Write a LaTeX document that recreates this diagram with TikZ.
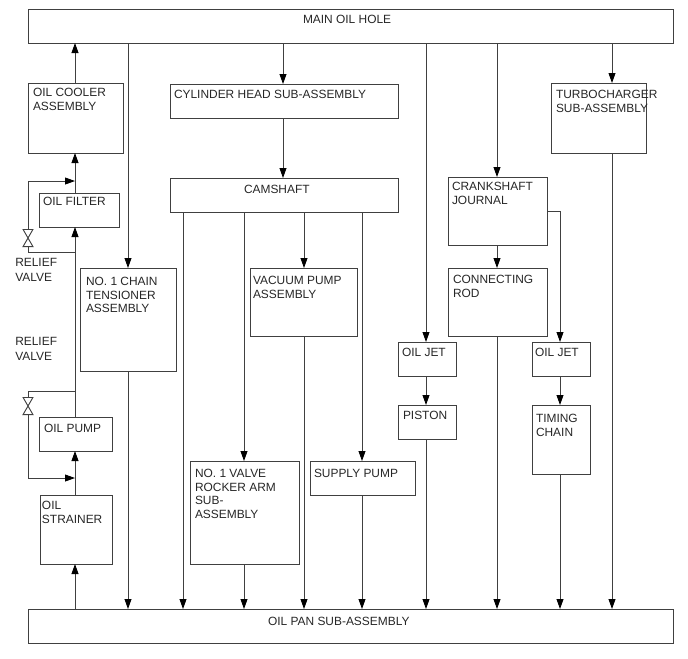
\documentclass[tikz,border=0pt]{standalone}
\usepackage{fontspec}
\setmainfont{Liberation Sans}
\usetikzlibrary{arrows.meta}
\newlength\px
\setlength\px{.75pt}
% box contents: [left inset]{width}{height}{top inset}{text}, set from the top left corner
\newcommand{\unittext}[5][4]{\parbox[t][#3\px][t]{#2\px}{\raggedright\leftskip=#1\px\relax\vspace*{#4\px}#5\par}}
\hbadness=10000
\hfuzz=20pt
\tikzset{
  unit/.style={draw=black!75, line width=.7pt, anchor=north west, inner sep=0pt, outer sep=0pt, font=\fontsize{8.95}{10.25}\selectfont, text=black!85},
  note/.style={anchor=north west, inner sep=0pt, align=left, font=\fontsize{8.95}{10.9}\selectfont, text=black!85},
  pipe/.style={draw=black!75, line width=.7pt},
  flow/.style={pipe, -{Triangle[length=7.5pt,width=5.2pt,fill=black,color=black]}},
  valve/.style={minimum width=12\px, minimum height=18\px, inner sep=0pt, outer sep=0pt,
    path picture={\draw[pipe] (-5,-8.7) -- (5,8.7) -- (-5,8.7) -- (5,-8.7) -- cycle;}},
}
\begin{document}
\begin{tikzpicture}[x=.75pt, y=-.75pt]
\useasboundingbox (0,0) rectangle (688,658);
% top and bottom rails
\node (main) [unit] at (28,9) {\unittext[275]{645}{34}{6}{MAIN OIL HOLE}};
\node (pan) [unit] at (28,609) {\unittext[240]{645}{34}{8}{OIL PAN SUB-ASSEMBLY}};
% left column
\node (cooler) [unit] at (28,83) {\unittext[5]{95}{70}{5}{OIL COOLER\\ASSEMBLY}};
\node (filter) [unit] at (39,193) {\unittext{80}{34}{4}{OIL FILTER}};
\node (oilpump) [unit] at (39,417) {\unittext[5]{73}{34}{7}{OIL PUMP}};
\node (strainer) [unit] at (40,495) {\unittext[2]{72}{69}{6}{OIL\\STRAINER}};
\node (tensioner) [unit] at (80,268) {\unittext[6]{96}{103}{9}{NO. 1 CHAIN\\TENSIONER\\ASSEMBLY}};
% camshaft group
\node (head) [unit] at (170,84) {\unittext{228}{34}{6}{CYLINDER HEAD SUB-ASSEMBLY}};
\node (camshaft) [unit] at (170,178) {\unittext[74]{228}{34}{7}{CAMSHAFT}};
\node (vacuum) [unit] at (250,268) {\unittext[3]{107}{68}{8}{VACUUM PUMP\\ASSEMBLY}};
\node (rocker) [unit] at (190,461) {\unittext[5]{109}{103}{8}{NO. 1 VALVE\\ROCKER ARM\\SUB-\\ASSEMBLY}};
\node (supply) [unit] at (310,461) {\unittext{105}{34}{8}{SUPPLY PUMP}};
% crankshaft group
\node (jeta) [unit] at (398,342) {\unittext{58}{34}{6}{OIL JET}};
\node (piston) [unit] at (398,405) {\unittext[5]{58}{34}{6}{PISTON}};
\node (crank) [unit] at (448,177) {\unittext{99}{68}{5}{CRANKSHAFT\\JOURNAL}};
\node (rod) [unit] at (448,268) {\unittext[5]{99}{68}{7}{CONNECTING\\ROD}};
\node (jetb) [unit] at (532,342) {\unittext[3]{58}{34}{6}{OIL JET}};
\node (chain) [unit] at (532,405) {\unittext{58}{69}{9}{TIMING\\CHAIN}};
\node (turbo) [unit] at (551,83) {\unittext[5]{95}{70}{7}{\mbox{TURBOCHARGER}\\\mbox{SUB-ASSEMBLY}}};
% relief valves
\node (valvea) [valve] at (28,238) {};
\node (valveb) [valve] at (28,406) {};
\node (reliefa) [note] at (15,258) {RELIEF\\VALVE};
\node (reliefb) [note] at (15,337.5) {RELIEF\\VALVE};
% columns and branch points
\foreach \name/\x in {colfeed/75, coltens/128, colhead/283, colcama/183, colcamb/244, colcamc/304, colcamd/362, coljet/426, colcrank/497, coljetb/560, colturbo/612}
  \coordinate (\name) at (\x,0);
\coordinate (tapa) at (75,252);
\coordinate (joina) at (75,181);
\coordinate (tapb) at (75,391);
\coordinate (joinb) at (75,478);
\coordinate (crankout) at (547,211);
% feed line up the left side
\draw[flow] (pan.north -| colfeed) -- (strainer.south -| colfeed);
\draw[flow] (strainer.north -| colfeed) -- (oilpump.south -| colfeed);
\draw[flow] (oilpump.north -| colfeed) -- (filter.south -| colfeed);
\draw[flow] (filter.north -| colfeed) -- (cooler.south -| colfeed);
\draw[flow] (cooler.north -| colfeed) -- (main.south -| colfeed);
\draw[pipe] (tapa) -| (valvea.south);
\draw[flow] (valvea.north) |- (joina);
\draw[pipe] (tapb) -| (valveb.north);
\draw[flow] (valveb.south) |- (joinb);
% branches off the main hole
\draw[flow] (main.south -| coltens) -- (tensioner.north -| coltens);
\draw[flow] (main.south -| colhead) -- (head.north -| colhead);
\draw[flow] (main.south -| coljet) -- (jeta.north -| coljet);
\draw[flow] (main.south -| colcrank) -- (crank.north -| colcrank);
\draw[flow] (main.south -| colturbo) -- (turbo.north -| colturbo);
\draw[flow] (head.south -| colhead) -- (camshaft.north -| colhead);
\draw[flow] (camshaft.south -| colcamb) -- (rocker.north -| colcamb);
\draw[flow] (camshaft.south -| colcamc) -- (vacuum.north -| colcamc);
\draw[flow] (camshaft.south -| colcamd) -- (supply.north -| colcamd);
\draw[flow] (jeta.south -| coljet) -- (piston.north -| coljet);
\draw[flow] (crank.south -| colcrank) -- (rod.north -| colcrank);
\draw[flow] (crankout) -| (jetb.north -| coljetb);
\draw[flow] (jetb.south -| coljetb) -- (chain.north -| coljetb);
% returns to the pan
\draw[flow] (tensioner.south -| coltens) -- (pan.north -| coltens);
\draw[flow] (camshaft.south -| colcama) -- (pan.north -| colcama);
\draw[flow] (rocker.south -| colcamb) -- (pan.north -| colcamb);
\draw[flow] (vacuum.south -| colcamc) -- (pan.north -| colcamc);
\draw[flow] (supply.south -| colcamd) -- (pan.north -| colcamd);
\draw[flow] (piston.south -| coljet) -- (pan.north -| coljet);
\draw[flow] (rod.south -| colcrank) -- (pan.north -| colcrank);
\draw[flow] (chain.south -| coljetb) -- (pan.north -| coljetb);
\draw[flow] (turbo.south -| colturbo) -- (pan.north -| colturbo);
\end{tikzpicture}
\end{document}
